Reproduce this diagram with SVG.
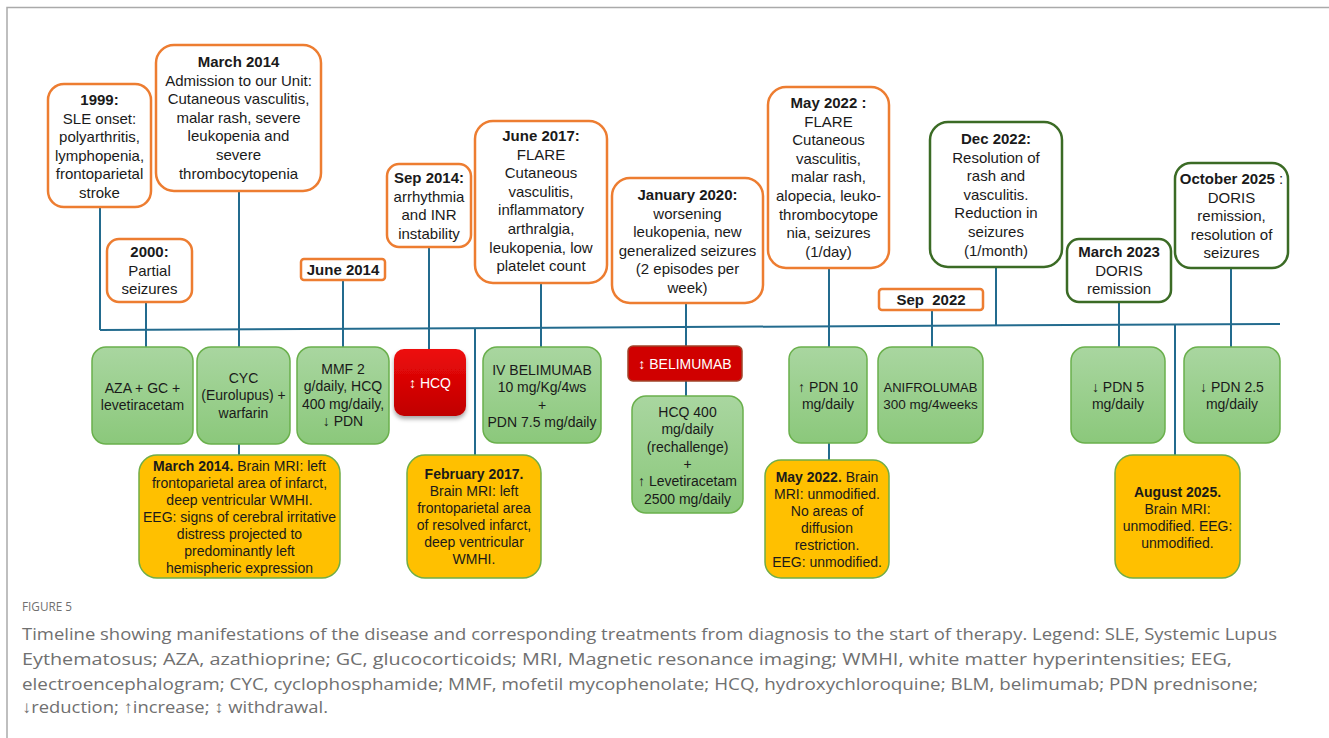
<svg xmlns="http://www.w3.org/2000/svg" width="1329" height="738" viewBox="0 0 1329 738">
<defs>
<linearGradient id="gG" x1="0" y1="0" x2="0" y2="1"><stop offset="0" stop-color="#A9D6A0"/><stop offset="1" stop-color="#8BC87B"/></linearGradient>
<linearGradient id="gR" x1="0" y1="0" x2="0" y2="1"><stop offset="0" stop-color="#EE0A0A"/><stop offset="1" stop-color="#C00000"/></linearGradient>
<filter id="sh" x="-20%" y="-20%" width="140%" height="150%"><feDropShadow dx="0" dy="3" stdDeviation="2" flood-color="#000" flood-opacity="0.35"/></filter>
<style>
text{font-family:"Liberation Sans",Arial,sans-serif;fill:#1a1a1a;text-anchor:middle}
.t{font-size:15px}
.s{font-size:14px}
.b{font-weight:bold}
.w{fill:#fff}
.or{fill:#fff;stroke:#ED7D31;stroke-width:2.5}
.dg{fill:#fff;stroke:#3B6B25;stroke-width:2.5}
.gr{fill:url(#gG);stroke:#6AB04C;stroke-width:1.5}
.ye{fill:#FFC000;stroke:#70AD47;stroke-width:1.5}
.cn{stroke:#236B8E;stroke-width:2;fill:none}
.cap{font-family:"Open Sans","Liberation Sans",sans-serif;fill:#707070;text-anchor:start}
</style>
</defs>
<rect width="1329" height="738" fill="#fff"/>
<path d="M7 738 V7.5 H1329" fill="none" stroke="#aaa" stroke-width="1.5"/>

<g id="connectors">
<path class="cn" d="M100 330 L1280 324"/>
<path class="cn" d="M100 207 V330"/>
<path class="cn" d="M146 302 V347"/>
<path class="cn" d="M239 191 V455"/>
<path class="cn" d="M343 280 V347"/>
<path class="cn" d="M429 247 V350"/>
<path class="cn" d="M475 328 V455"/>
<path class="cn" d="M541 283 V347"/>
<path class="cn" d="M686 303 V396"/>
<path class="cn" d="M829 268 V460"/>
<path class="cn" d="M932 310 V347"/>
<path class="cn" d="M996 267 V325.5"/>
<path class="cn" d="M1119 302 V347"/>
<path class="cn" d="M1175 324.5 V455"/>
<path class="cn" d="M1231 268 V347"/>
</g>

<g id="n1999"><rect class="or" x="48" y="84" width="103" height="123" rx="16"/>
<text class="t"><tspan class="b" x="99.5" y="105">1999:</tspan><tspan x="99.5" y="123.6">SLE onset:</tspan><tspan x="99.5" y="142.2">polyarthritis,</tspan><tspan x="99.5" y="160.8">lymphopenia,</tspan><tspan x="99.5" y="179.4">frontoparietal</tspan><tspan x="99.5" y="198">stroke</tspan></text></g>

<g id="nMar2014"><rect class="or" x="156" y="45" width="165" height="146" rx="18"/>
<text class="t"><tspan class="b" x="238.5" y="67">March 2014</tspan><tspan x="238.5" y="85.6">Admission to our Unit:</tspan><tspan x="238.5" y="104.2">Cutaneous vasculitis,</tspan><tspan x="238.5" y="122.8">malar rash, severe</tspan><tspan x="238.5" y="141.4">leukopenia and</tspan><tspan x="238.5" y="160">severe</tspan><tspan x="238.5" y="178.6">thrombocytopenia</tspan></text></g>

<g id="n2000"><rect class="or" x="107" y="239" width="85" height="63" rx="12"/>
<text class="t"><tspan class="b" x="149.5" y="257">2000:</tspan><tspan x="149.5" y="275.6">Partial</tspan><tspan x="149.5" y="294.2">seizures</tspan></text></g>

<g id="nJun2014"><rect class="or" x="301" y="259" width="84" height="21" rx="3"/>
<text class="t b" x="343" y="275">June 2014</text></g>

<g id="nSep2014"><rect class="or" x="387" y="164" width="84" height="83" rx="12"/>
<text class="t"><tspan class="b" x="429" y="183">Sep 2014:</tspan><tspan x="429" y="201.6">arrhythmia</tspan><tspan x="429" y="220.2">and INR</tspan><tspan x="429" y="238.8">instability</tspan></text></g>

<g id="nJun2017"><rect class="or" x="475" y="121" width="132" height="162" rx="18"/>
<text class="t"><tspan class="b" x="541" y="141">June 2017:</tspan><tspan x="541" y="159.6">FLARE</tspan><tspan x="541" y="178.2">Cutaneous</tspan><tspan x="541" y="196.8">vasculitis,</tspan><tspan x="541" y="215.4">inflammatory</tspan><tspan x="541" y="234">arthralgia,</tspan><tspan x="541" y="252.6">leukopenia, low</tspan><tspan x="541" y="271.2">platelet count</tspan></text></g>

<g id="nJan2020"><rect class="or" x="612" y="178" width="151" height="125" rx="18"/>
<text class="t"><tspan class="b" x="687.5" y="200">January 2020:</tspan><tspan x="687.5" y="218.6">worsening</tspan><tspan x="687.5" y="237.2">leukopenia, new</tspan><tspan x="687.5" y="255.8">generalized seizures</tspan><tspan x="687.5" y="274.4">(2 episodes per</tspan><tspan x="687.5" y="293">week)</tspan></text></g>

<g id="nMay2022"><rect class="or" x="768" y="87" width="121" height="181" rx="18"/>
<text class="t"><tspan class="b" x="828.5" y="108">May 2022 :</tspan><tspan x="828.5" y="126.6">FLARE</tspan><tspan x="828.5" y="145.2">Cutaneous</tspan><tspan x="828.5" y="163.8">vasculitis,</tspan><tspan x="828.5" y="182.4">malar rash,</tspan><tspan x="828.5" y="201">alopecia, leuko-</tspan><tspan x="828.5" y="219.6">thrombocytope</tspan><tspan x="828.5" y="238.2">nia, seizures</tspan><tspan x="828.5" y="256.8">(1/day)</tspan></text></g>

<g id="nSep2022"><rect class="or" x="879" y="289" width="104" height="21" rx="3"/>
<text class="t b" x="931" y="305" xml:space="preserve">Sep  2022</text></g>

<g id="nDec2022"><rect class="dg" x="930" y="122" width="132" height="145" rx="18"/>
<text class="t"><tspan class="b" x="996" y="144">Dec 2022:</tspan><tspan x="996" y="162.6">Resolution of</tspan><tspan x="996" y="181.2">rash and</tspan><tspan x="996" y="199.8">vasculitis.</tspan><tspan x="996" y="218.4">Reduction in</tspan><tspan x="996" y="237">seizures</tspan><tspan x="996" y="255.6">(1/month)</tspan></text></g>

<g id="nMar2023"><rect class="dg" x="1067" y="239" width="104" height="63" rx="12"/>
<text class="t"><tspan class="b" x="1119" y="257">March 2023</tspan><tspan x="1119" y="275.6">DORIS</tspan><tspan x="1119" y="294.2">remission</tspan></text></g>

<g id="nOct2025"><rect class="dg" x="1175" y="163" width="113" height="105" rx="16"/>
<text class="t"><tspan x="1231.5" y="184"><tspan class="b">October 2025</tspan> :</tspan><tspan x="1231.5" y="202.6">DORIS</tspan><tspan x="1231.5" y="221.2">remission,</tspan><tspan x="1231.5" y="239.8">resolution of</tspan><tspan x="1231.5" y="258.4">seizures</tspan></text></g>

<g id="tAZA"><rect class="gr" x="92" y="347" width="101" height="97" rx="14"/>
<text class="s"><tspan x="142.5" y="393">AZA + GC +</tspan><tspan x="142.5" y="410.3">levetiracetam</tspan></text></g>

<g id="tCYC"><rect class="gr" x="197" y="347" width="93" height="97" rx="14"/>
<text class="s"><tspan x="243.5" y="383">CYC</tspan><tspan x="243.5" y="400.3">(Eurolupus) +</tspan><tspan x="243.5" y="417.6">warfarin</tspan></text></g>

<g id="tMMF"><rect class="gr" x="297" y="347" width="92" height="97" rx="14"/>
<text class="s"><tspan x="343" y="374">MMF 2</tspan><tspan x="343" y="391.3">g/daily, HCQ</tspan><tspan x="343" y="408.6">400 mg/daily,</tspan><tspan x="343" y="425.9">↓ PDN</tspan></text></g>

<g id="tHCQstop"><rect x="394" y="349" width="72" height="67" rx="10" fill="url(#gR)" filter="url(#sh)"/>
<text class="s w" x="430" y="388">↕ HCQ</text></g>

<g id="tIVBEL"><rect class="gr" x="483" y="347" width="118" height="96" rx="14"/>
<text class="s"><tspan x="542" y="375">IV BELIMUMAB</tspan><tspan x="542" y="392.3">10 mg/Kg/4ws</tspan><tspan x="542" y="409.6">+</tspan><tspan x="542" y="426.9">PDN 7.5 mg/daily</tspan></text></g>

<g id="tBELstop"><rect x="628" y="346" width="114" height="35" rx="5" fill="#D00000" stroke="#A0442A" stroke-width="1.5"/>
<text class="s w" x="685" y="369">↕ BELIMUMAB</text></g>

<g id="tHCQ400"><rect class="gr" x="632" y="396" width="111" height="117" rx="14"/>
<text class="s"><tspan x="687.5" y="417">HCQ 400</tspan><tspan x="687.5" y="434.3">mg/daily</tspan><tspan x="687.5" y="451.6">(rechallenge)</tspan><tspan x="687.5" y="468.9">+</tspan><tspan x="687.5" y="486.2">↑ Levetiracetam</tspan><tspan x="687.5" y="503.5">2500 mg/daily</tspan></text></g>

<g id="tPDN10"><rect class="gr" x="789" y="347" width="78" height="96" rx="12"/>
<text class="s"><tspan x="828" y="392">↑ PDN 10</tspan><tspan x="828" y="409.3">mg/daily</tspan></text></g>

<g id="tANI"><rect class="gr" x="878" y="347" width="105" height="96" rx="14"/>
<text class="s" font-size="13"><tspan x="930.5" y="392" style="font-size:13px">ANIFROLUMAB</tspan><tspan x="930.5" y="409.3" style="font-size:13.5px">300 mg/4weeks</tspan></text></g>

<g id="tPDN5"><rect class="gr" x="1071" y="347" width="94" height="96" rx="14"/>
<text class="s"><tspan x="1118" y="392">↓ PDN 5</tspan><tspan x="1118" y="409.3">mg/daily</tspan></text></g>

<g id="tPDN25"><rect class="gr" x="1184" y="347" width="96" height="96" rx="14"/>
<text class="s"><tspan x="1232" y="392">↓ PDN 2.5</tspan><tspan x="1232" y="409.3">mg/daily</tspan></text></g>

<g id="yMar2014"><rect class="ye" x="139" y="455" width="201" height="123" rx="18"/>
<text class="s"><tspan x="239.5" y="471"><tspan class="b">March 2014.</tspan> Brain MRI: left</tspan><tspan x="239.5" y="488">frontoparietal area of infarct,</tspan><tspan x="239.5" y="505">deep ventricular WMHI.</tspan><tspan x="239.5" y="522">EEG: signs of cerebral irritative</tspan><tspan x="239.5" y="539">distress projected to</tspan><tspan x="239.5" y="556">predominantly left</tspan><tspan x="239.5" y="573">hemispheric expression</tspan></text></g>

<g id="yFeb2017"><rect class="ye" x="407" y="455" width="134" height="123" rx="18"/>
<text class="s"><tspan class="b" x="474" y="479">February 2017.</tspan><tspan x="474" y="496">Brain MRI: left</tspan><tspan x="474" y="513">frontoparietal area</tspan><tspan x="474" y="530">of resolved infarct,</tspan><tspan x="474" y="547">deep ventricular</tspan><tspan x="474" y="564">WMHI.</tspan></text></g>

<g id="yMay2022"><rect class="ye" x="765" y="460" width="124" height="118" rx="16"/>
<text class="s"><tspan x="827" y="482"><tspan class="b">May 2022.</tspan> Brain</tspan><tspan x="827" y="499">MRI: unmodified.</tspan><tspan x="827" y="516">No areas of</tspan><tspan x="827" y="533">diffusion</tspan><tspan x="827" y="550">restriction.</tspan><tspan x="827" y="567">EEG: unmodified.</tspan></text></g>

<g id="yAug2025"><rect class="ye" x="1115" y="455" width="125" height="123" rx="18"/>
<text class="s"><tspan class="b" x="1177.5" y="497">August 2025.</tspan><tspan x="1177.5" y="514">Brain MRI:</tspan><tspan x="1177.5" y="531">unmodified. EEG:</tspan><tspan x="1177.5" y="548">unmodified.</tspan></text></g>

<g id="caption">
<text class="cap" x="22" y="611" font-size="12" textLength="50" lengthAdjust="spacingAndGlyphs">FIGURE 5</text>
<text class="cap" x="22" y="640" font-size="17" textLength="1255" lengthAdjust="spacingAndGlyphs">Timeline showing manifestations of the disease and corresponding treatments from diagnosis to the start of therapy. Legend: SLE, Systemic Lupus</text>
<text class="cap" x="22" y="665" font-size="17" textLength="1210" lengthAdjust="spacingAndGlyphs">Eythematosus; AZA, azathioprine; GC, glucocorticoids; MRI, Magnetic resonance imaging; WMHI, white matter hyperintensities; EEG,</text>
<text class="cap" x="22" y="690" font-size="17" textLength="1236" lengthAdjust="spacingAndGlyphs">electroencephalogram; CYC, cyclophosphamide; MMF, mofetil mycophenolate; HCQ, hydroxychloroquine; BLM, belimumab; PDN prednisone;</text>
<text class="cap" x="22" y="713" font-size="17" textLength="306" lengthAdjust="spacingAndGlyphs">↓reduction; ↑increase; ↕ withdrawal.</text>
</g>
</svg>
